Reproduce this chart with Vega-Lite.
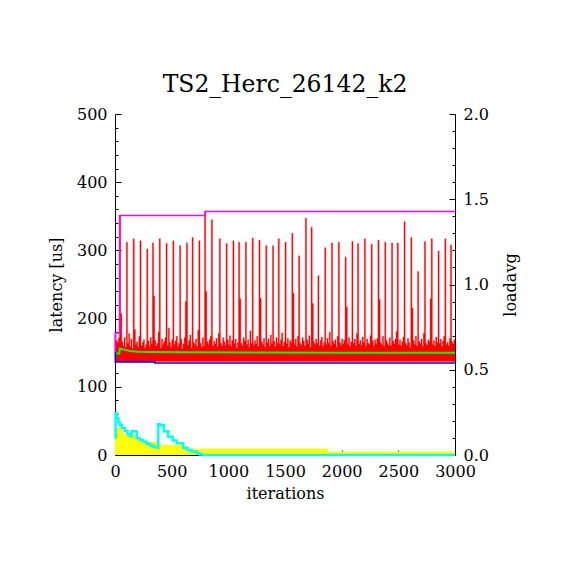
{
  "$schema": "https://vega.github.io/schema/vega-lite/v6.json",
  "width": 340,
  "height": 341,
  "autosize": "none",
  "padding": {"left": 115, "top": 114, "right": 115, "bottom": 115},
  "background": "white",
  "title": {"text": "TS2_Herc_26142_k2", "font": "DejaVu Serif", "fontSize": 23.5, "fontWeight": "normal", "color": "black", "offset": 10},
  "config": {
    "view": {"stroke": null},
    "axis": {
      "grid": false,
      "domainColor": "black",
      "tickColor": "black",
      "labelColor": "black",
      "titleColor": "black",
      "labelFont": "DejaVu Serif",
      "titleFont": "DejaVu Serif",
      "labelFontSize": 16,
      "titleFontSize": 16,
      "titleFontWeight": "normal",
      "labelOverlap": false,
      "labelFlush": false,
      "domainWidth": 1,
      "tickWidth": 1
    }
  },
  "datasets": {
    "band": [
      {"i":0,"v":176},{"i":10,"v":168},{"i":20,"v":165},{"i":30,"v":172},{"i":40,"v":350},{"i":50,"v":207},{"i":60,"v":166},{"i":70,"v":160},{"i":80,"v":172},{"i":90,"v":158},
      {"i":100,"v":312},{"i":110,"v":164},{"i":120,"v":178},{"i":130,"v":159},{"i":140,"v":170},{"i":150,"v":156},{"i":160,"v":317},{"i":170,"v":184},{"i":180,"v":162},{"i":190,"v":166},
      {"i":200,"v":158},{"i":210,"v":174},{"i":220,"v":314},{"i":230,"v":160},{"i":240,"v":165},{"i":250,"v":169},{"i":260,"v":157},{"i":270,"v":162},{"i":280,"v":302},{"i":290,"v":167},
      {"i":300,"v":159},{"i":310,"v":172},{"i":320,"v":163},{"i":330,"v":311},{"i":340,"v":233},{"i":350,"v":168},{"i":360,"v":160},{"i":370,"v":164},{"i":380,"v":180},{"i":390,"v":317},
      {"i":400,"v":157},{"i":410,"v":170},{"i":420,"v":162},{"i":430,"v":166},{"i":440,"v":172},{"i":450,"v":310},{"i":460,"v":160},{"i":470,"v":186},{"i":480,"v":165},{"i":490,"v":158},
      {"i":500,"v":169},{"i":510,"v":314},{"i":520,"v":162},{"i":530,"v":167},{"i":540,"v":174},{"i":550,"v":159},{"i":560,"v":164},{"i":570,"v":307},{"i":580,"v":170},{"i":590,"v":156},
      {"i":600,"v":163},{"i":610,"v":172},{"i":620,"v":225},{"i":630,"v":311},{"i":640,"v":161},{"i":650,"v":168},{"i":660,"v":176},{"i":670,"v":157},{"i":680,"v":319},{"i":690,"v":165},
      {"i":700,"v":162},{"i":710,"v":170},{"i":720,"v":159},{"i":730,"v":183},{"i":740,"v":314},{"i":750,"v":164},{"i":760,"v":158},{"i":770,"v":172},{"i":780,"v":160},{"i":790,"v":357},
      {"i":800,"v":240},{"i":810,"v":166},{"i":820,"v":162},{"i":830,"v":169},{"i":840,"v":174},{"i":850,"v":345},{"i":860,"v":160},{"i":870,"v":167},{"i":880,"v":163},{"i":890,"v":171},
      {"i":900,"v":158},{"i":910,"v":178},{"i":920,"v":317},{"i":930,"v":164},{"i":940,"v":160},{"i":950,"v":172},{"i":960,"v":166},{"i":970,"v":161},{"i":980,"v":310},{"i":990,"v":169},
      {"i":1000,"v":162},{"i":1010,"v":175},{"i":1020,"v":159},{"i":1030,"v":168},{"i":1040,"v":314},{"i":1050,"v":163},{"i":1060,"v":170},{"i":1070,"v":157},{"i":1080,"v":165},{"i":1090,"v":312},
      {"i":1100,"v":229},{"i":1110,"v":164},{"i":1120,"v":160},{"i":1130,"v":172},{"i":1140,"v":167},{"i":1150,"v":312},{"i":1160,"v":162},{"i":1170,"v":169},{"i":1180,"v":158},{"i":1190,"v":182},
      {"i":1200,"v":164},{"i":1210,"v":318},{"i":1220,"v":161},{"i":1230,"v":168},{"i":1240,"v":163},{"i":1250,"v":174},{"i":1260,"v":159},{"i":1270,"v":315},{"i":1280,"v":230},{"i":1290,"v":166},
      {"i":1300,"v":162},{"i":1310,"v":171},{"i":1320,"v":158},{"i":1330,"v":307},{"i":1340,"v":165},{"i":1350,"v":170},{"i":1360,"v":160},{"i":1370,"v":176},{"i":1380,"v":163},{"i":1390,"v":307},
      {"i":1400,"v":167},{"i":1410,"v":159},{"i":1420,"v":172},{"i":1430,"v":164},{"i":1440,"v":317},{"i":1450,"v":162},{"i":1460,"v":169},{"i":1470,"v":179},{"i":1480,"v":160},{"i":1490,"v":166},
      {"i":1500,"v":312},{"i":1510,"v":163},{"i":1520,"v":171},{"i":1530,"v":158},{"i":1540,"v":168},{"i":1550,"v":165},{"i":1560,"v":325},{"i":1570,"v":237},{"i":1580,"v":162},{"i":1590,"v":170},
      {"i":1600,"v":159},{"i":1610,"v":174},{"i":1620,"v":292},{"i":1630,"v":164},{"i":1640,"v":161},{"i":1650,"v":172},{"i":1660,"v":167},{"i":1670,"v":160},{"i":1680,"v":347},{"i":1690,"v":169},
      {"i":1700,"v":163},{"i":1710,"v":175},{"i":1720,"v":158},{"i":1730,"v":334},{"i":1740,"v":222},{"i":1750,"v":166},{"i":1760,"v":162},{"i":1770,"v":170},{"i":1780,"v":164},{"i":1790,"v":263},
      {"i":1800,"v":160},{"i":1810,"v":168},{"i":1820,"v":173},{"i":1830,"v":159},{"i":1840,"v":165},{"i":1850,"v":304},{"i":1860,"v":162},{"i":1870,"v":171},{"i":1880,"v":164},{"i":1890,"v":180},
      {"i":1900,"v":160},{"i":1910,"v":311},{"i":1920,"v":167},{"i":1930,"v":163},{"i":1940,"v":169},{"i":1950,"v":158},{"i":1960,"v":174},{"i":1970,"v":312},{"i":1980,"v":165},{"i":1990,"v":161},
      {"i":2000,"v":170},{"i":2010,"v":163},{"i":2020,"v":168},{"i":2030,"v":290},{"i":2040,"v":217},{"i":2050,"v":162},{"i":2060,"v":172},{"i":2070,"v":159},{"i":2080,"v":166},{"i":2090,"v":313},
      {"i":2100,"v":164},{"i":2110,"v":170},{"i":2120,"v":160},{"i":2130,"v":178},{"i":2140,"v":310},{"i":2150,"v":163},{"i":2160,"v":168},{"i":2170,"v":161},{"i":2180,"v":173},{"i":2190,"v":165},
      {"i":2200,"v":317},{"i":2210,"v":159},{"i":2220,"v":170},{"i":2230,"v":164},{"i":2240,"v":162},{"i":2250,"v":175},{"i":2260,"v":309},{"i":2270,"v":167},{"i":2280,"v":160},{"i":2290,"v":169},
      {"i":2300,"v":163},{"i":2310,"v":171},{"i":2320,"v":315},{"i":2330,"v":228},{"i":2340,"v":165},{"i":2350,"v":162},{"i":2360,"v":174},{"i":2370,"v":159},{"i":2380,"v":312},{"i":2390,"v":168},
      {"i":2400,"v":164},{"i":2410,"v":161},{"i":2420,"v":172},{"i":2430,"v":160},{"i":2440,"v":311},{"i":2450,"v":167},{"i":2460,"v":163},{"i":2470,"v":170},{"i":2480,"v":181},{"i":2490,"v":311},
      {"i":2500,"v":162},{"i":2510,"v":169},{"i":2520,"v":160},{"i":2530,"v":166},{"i":2540,"v":173},{"i":2550,"v":342},{"i":2560,"v":164},{"i":2570,"v":161},{"i":2580,"v":171},{"i":2590,"v":165},
      {"i":2600,"v":158},{"i":2610,"v":319},{"i":2620,"v":215},{"i":2630,"v":168},{"i":2640,"v":162},{"i":2650,"v":174},{"i":2660,"v":160},{"i":2670,"v":269},{"i":2680,"v":166},{"i":2690,"v":163},
      {"i":2700,"v":170},{"i":2710,"v":159},{"i":2720,"v":178},{"i":2730,"v":313},{"i":2740,"v":164},{"i":2750,"v":161},{"i":2760,"v":169},{"i":2770,"v":166},{"i":2780,"v":229},{"i":2790,"v":317},
      {"i":2800,"v":162},{"i":2810,"v":168},{"i":2820,"v":160},{"i":2830,"v":173},{"i":2840,"v":165},{"i":2850,"v":299},{"i":2860,"v":163},{"i":2870,"v":170},{"i":2880,"v":159},{"i":2890,"v":167},
      {"i":2900,"v":174},{"i":2910,"v":317},{"i":2920,"v":162},{"i":2930,"v":165},{"i":2940,"v":160},{"i":2950,"v":171},{"i":2960,"v":308},{"i":2970,"v":166},{"i":2980,"v":163},{"i":2990,"v":169},
      {"i":3000,"v":162}
    ],
    "maxLat": [
      {"i":0,"v":150},{"i":2,"v":179},{"i":40,"v":351},{"i":795,"v":357},{"i":3000,"v":357}
    ],
    "avgLat": [
      {"i":0,"v":149},{"i":38,"v":149},{"i":42,"v":156},{"i":80,"v":154.5},{"i":130,"v":152.5},{"i":200,"v":151.5},{"i":300,"v":151},{"i":600,"v":150.5},{"i":1200,"v":150.3},{"i":2000,"v":150},{"i":3000,"v":150}
    ],
    "minLat": [
      {"i":0,"v":150},{"i":3,"v":136.5},{"i":352,"v":135},{"i":3000,"v":135}
    ],
    "loadYellow": [
      {"i":0,"v":0.23},{"i":8,"v":0.16},{"i":70,"v":0.12},{"i":180,"v":0.093},{"i":250,"v":0.078},{"i":390,"v":0.059},{"i":603,"v":0.036},{"i":1880,"v":0.02},{"i":3000,"v":0.02}
    ],
    "loadCyan": [
      {"i":0,"v":0.1},{"i":5,"v":0.245},{"i":15,"v":0.215},{"i":30,"v":0.19},{"i":44,"v":0.176},{"i":60,"v":0.16},{"i":88,"v":0.141},{"i":110,"v":0.125},{"i":132,"v":0.113},{"i":140,"v":0.11},
      {"i":147,"v":0.14},{"i":160,"v":0.14},{"i":191,"v":0.098},{"i":220,"v":0.088},{"i":250,"v":0.078},{"i":280,"v":0.066},{"i":309,"v":0.055},{"i":340,"v":0.048},{"i":368,"v":0.043},{"i":378,"v":0.043},
      {"i":382,"v":0.18},{"i":400,"v":0.175},{"i":430,"v":0.14},{"i":470,"v":0.107},{"i":510,"v":0.085},{"i":544,"v":0.069},{"i":603,"v":0.043},{"i":640,"v":0.03},{"i":676,"v":0.02},{"i":720,"v":0.01},
      {"i":750,"v":0.003},{"i":780,"v":0},{"i":3000,"v":0}
    ]
  },
  "encoding": {
    "x": {
      "field": "i",
      "type": "quantitative",
      "title": "iterations",
      "scale": {"domain": [0, 3000], "nice": false},
      "axis": {
        "values": [0, 500, 1000, 1500, 2000, 2500, 3000],
        "format": "d",
        "tickSize": -5,
        "labelPadding": 13,
        "titlePadding": 6
      }
    }
  },
  "layer": [
    {
      "encoding": {
        "y": {
          "field": "v",
          "type": "quantitative",
          "title": "loadavg",
          "scale": {"domain": [0, 2], "nice": false},
          "axis": {
            "orient": "right",
            "values": [0, 0.1, 0.2, 0.3, 0.4, 0.5, 0.6, 0.7, 0.8, 0.9, 1, 1.1, 1.2, 1.3, 1.4, 1.5, 1.6, 1.7, 1.8, 1.9, 2],
            "labelExpr": "round(datum.value * 10) % 5 === 0 ? format(datum.value, '.1f') : ''",
            "tickSize": {"condition": {"test": "round(datum.value * 10) % 5 === 0", "value": -6}, "value": -3},
            "labelPadding": 14,
            "titleAngle": 270,
            "titlePadding": 30
          }
        }
      },
      "layer": [
        {
          "data": {"name": "loadYellow"},
          "mark": {"type": "area", "interpolate": "step-after", "color": "#ffff00"}
        },
        {
          "data": {"name": "loadCyan"},
          "mark": {"type": "line", "interpolate": "step-after", "color": "#00ffff", "strokeWidth": 2.5}
        }
      ]
    },
    {
      "encoding": {
        "y": {
          "field": "v",
          "type": "quantitative",
          "title": "latency [us]",
          "scale": {"domain": [0, 500], "nice": false},
          "axis": {
            "orient": "left",
            "values": [0, 20, 40, 60, 80, 100, 120, 140, 160, 180, 200, 220, 240, 260, 280, 300, 320, 340, 360, 380, 400, 420, 440, 460, 480, 500],
            "labelExpr": "datum.value % 100 === 0 ? datum.label : ''",
            "tickSize": {"condition": {"test": "datum.value % 100 === 0", "value": -6}, "value": -3},
            "labelPadding": 14,
            "titlePadding": 12
          }
        }
      },
      "layer": [
        {
          "data": {"name": "band"},
          "mark": {"type": "area", "interpolate": "step-after", "color": "#ff0000", "stroke": "#ff0000", "strokeWidth": 0.4},
          "encoding": {"y2": {"datum": 137}}
        },
        {
          "data": {"name": "maxLat"},
          "mark": {"type": "line", "interpolate": "step-after", "color": "#ff00ff", "strokeWidth": 1.5}
        },
        {
          "data": {"name": "avgLat"},
          "mark": {"type": "line", "color": "#00ff00", "strokeWidth": 2}
        },
        {
          "data": {"name": "minLat"},
          "mark": {"type": "line", "interpolate": "step-after", "color": "#0000ff", "strokeWidth": 1.5}
        }
      ]
    }
  ],
  "resolve": {"scale": {"y": "independent"}}
}
